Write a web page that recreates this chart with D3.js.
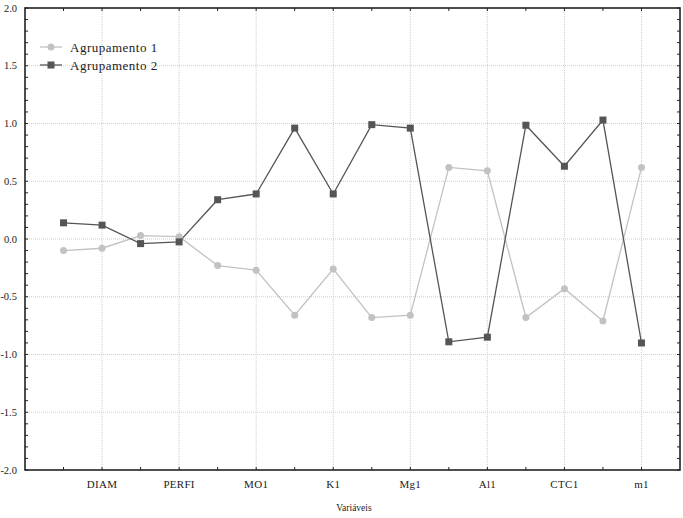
<!DOCTYPE html>
<html><head><meta charset="utf-8">
<script src="https://cdn.jsdelivr.net/npm/d3@7"></script>
<style>body{margin:0;background:#fff}svg{display:block}</style>
</head><body><svg id="c" width="683" height="518" font-family="'Liberation Serif', 'Times New Roman', serif"></svg>
<script>
const categories = ["", "DIAM", "", "PERFI", "", "MO1", "", "K1", "", "Mg1", "", "Al1", "", "CTC1", "", "m1"];
const seriesNames = ["Agrupamento 1", "Agrupamento 2"];
const grupo1 = [-0.10, -0.08, 0.03, 0.02, -0.23, -0.27, -0.66, -0.26, -0.68, -0.66, 0.62, 0.59, -0.68, -0.43, -0.71, 0.62];
const grupo2 = [0.14, 0.12, -0.04, -0.025, 0.34, 0.39, 0.96, 0.39, 0.99, 0.96, -0.89, -0.85, 0.985, 0.63, 1.03, -0.90];
const yTicks = [-2.0, -1.5, -1.0, -0.5, 0.0, 0.5, 1.0, 1.5, 2.0];
const xTitle = "Variáveis";

const svg = d3.select("#c");
const L = 25, R = 680, T = 8, B = 470;
const x = d3.scaleLinear().domain([0, categories.length + 1]).range([L, R]);
const y = d3.scaleLinear().domain([-2, 2]).range([B, T]);
const gridColor = "#cfcfcf";

// grid
const g = svg.append("g");
g.selectAll("line.h").data(yTicks.slice(1, -1)).join("line")
  .attr("x1", L).attr("x2", R).attr("y1", d => y(d)).attr("y2", d => y(d))
  .attr("stroke", gridColor).attr("stroke-dasharray", "1,1");
g.selectAll("line.v").data(categories.map((c, i) => ({c, i})).filter(d => d.c)).join("line")
  .attr("x1", d => x(d.i + 1)).attr("x2", d => x(d.i + 1)).attr("y1", T).attr("y2", B)
  .attr("stroke", gridColor).attr("stroke-dasharray", "1,1");

// axes
const minor = d3.range(-20, 21).map(v => v / 10);
const tickLen = 3;
const ax = svg.append("g").attr("stroke", "#222");
minor.forEach(v => {
  ax.append("line").attr("x1", L).attr("x2", L + tickLen).attr("y1", y(v)).attr("y2", y(v));
  ax.append("line").attr("x1", R).attr("x2", R - tickLen).attr("y1", y(v)).attr("y2", y(v));
});
categories.forEach((c, i) => {
  ax.append("line").attr("x1", x(i + 1)).attr("x2", x(i + 1)).attr("y1", B).attr("y2", B - tickLen);
  ax.append("line").attr("x1", x(i + 1)).attr("x2", x(i + 1)).attr("y1", T).attr("y2", T + tickLen);
});
svg.append("rect").attr("x", L).attr("y", T).attr("width", R - L).attr("height", B - T)
  .attr("fill", "none").attr("stroke", "#222").attr("stroke-width", 1.6);

// y labels
svg.selectAll("text.yl").data(yTicks).join("text")
  .attr("x", 17).attr("y", d => y(d) + 3.5).attr("text-anchor", "end")
  .attr("font-size", 10.5).attr("fill", "#222")
  .text(d => (d < 0 ? "-" : "") + Math.abs(d).toFixed(1));

// x labels
svg.selectAll("text.xl").data(categories.map((c, i) => ({c, i})).filter(d => d.c)).join("text")
  .attr("x", d => x(d.i + 1)).attr("y", 488).attr("text-anchor", "middle")
  .attr("font-size", 11).attr("letter-spacing", 0.3).attr("fill", "#222").text(d => d.c);
svg.append("text").attr("x", 354).attr("y", 511).attr("text-anchor", "middle")
  .attr("font-size", 9.5).attr("fill", "#222").text(xTitle);

// lines
const line = d3.line().x((d, i) => x(i + 1)).y(d => y(d));
const c1 = "#c2c2c2", c2 = "#555555";
svg.append("path").datum(grupo1).attr("d", line).attr("fill", "none").attr("stroke", c1).attr("stroke-width", 1.3);
svg.append("path").datum(grupo2).attr("d", line).attr("fill", "none").attr("stroke", c2).attr("stroke-width", 1.3);
svg.selectAll("circle.p1").data(grupo1).join("circle")
  .attr("cx", (d, i) => x(i + 1)).attr("cy", d => y(d)).attr("r", 3.5).attr("fill", c1);
svg.selectAll("rect.p2").data(grupo2).join("rect")
  .attr("x", (d, i) => x(i + 1) - 3.5).attr("y", d => y(d) - 3.5)
  .attr("width", 7).attr("height", 7).attr("fill", c2);

// legend
const lg = svg.append("g");
[[c1, "circle"], [c2, "rect"]].forEach(([col, shape], k) => {
  const yy = 47 + k * 18;
  lg.append("line").attr("x1", 40).attr("x2", 62).attr("y1", yy).attr("y2", yy).attr("stroke", col).attr("stroke-width", 1.3);
  if (shape === "circle") lg.append("circle").attr("cx", 51).attr("cy", yy).attr("r", 3.5).attr("fill", col);
  else lg.append("rect").attr("x", 47.5).attr("y", yy - 3.5).attr("width", 7).attr("height", 7).attr("fill", col);
  lg.append("text").attr("x", 70).attr("y", yy + 4.5).attr("font-size", 13).attr("fill", "#222")
    .attr("letter-spacing", 0.5).text(seriesNames[k]);
});
</script></body></html>
